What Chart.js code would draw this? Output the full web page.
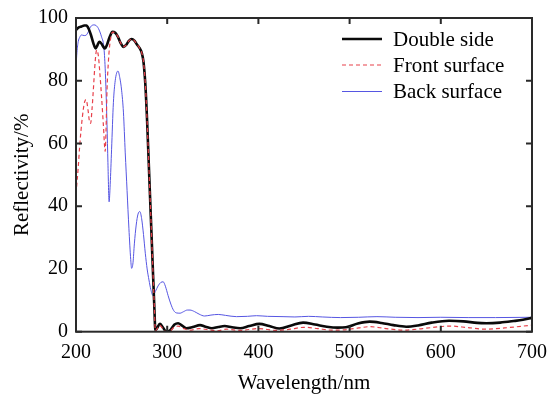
<!DOCTYPE html>
<html>
<head>
<meta charset="utf-8">
<script src="https://cdn.jsdelivr.net/npm/chart.js@4.4.1/dist/chart.umd.min.js"></script>
<style>
  html, body { margin: 0; padding: 0; background: #fff; }
  #wrap { width: 548px; height: 394px; }
</style>
</head>
<body>
<div id="wrap"><canvas id="chart" width="548" height="394"></canvas></div>
<script>
// wavelength (nm) and reflectivity (%)
const wlDouble = [200, 203, 206, 209, 211.5, 214, 216.5, 219, 221.5, 223.5, 225.5, 228, 230, 231.8, 234, 237, 240, 243, 246, 249, 252, 255, 258, 261, 264, 267, 270, 272, 274, 276, 278, 280, 282, 284, 286, 287, 289, 292, 295, 299, 303, 308, 312, 316, 321, 328, 336, 342, 349, 356, 363, 371, 380, 390, 401, 412, 423, 436, 449, 462, 475, 487, 496, 509, 522, 535, 548, 562, 575, 590, 609, 625, 640, 650, 665, 680, 690, 700];
const rDouble = [96.2, 97.0, 97.3, 97.6, 97.6, 96.5, 94.5, 92.0, 90.3, 91.3, 92.4, 91.8, 90.8, 90.3, 91.5, 94.0, 95.6, 95.3, 94.0, 92.0, 90.8, 91.4, 92.7, 93.3, 92.8, 91.5, 90.3, 89.0, 86.0, 79.0, 67.0, 52.0, 37.0, 22.0, 7.0, 0.5, 1.2, 2.5, 1.5, 0.1, 0.4, 2.3, 2.7, 2.0, 1.1, 1.5, 2.1, 1.6, 1.1, 1.5, 1.8, 1.4, 1.1, 1.8, 2.5, 1.8, 1.0, 2.0, 2.9, 2.3, 1.6, 1.3, 1.4, 2.6, 3.2, 2.8, 2.1, 1.6, 2.0, 2.9, 3.5, 3.3, 2.8, 2.7, 2.9, 3.4, 3.8, 4.4];

const wlFront = [200, 202.5, 204, 207, 209.5, 211, 213.5, 214.5, 216, 217.5, 219, 221, 222.6, 224.5, 226, 228, 230, 232, 233, 234, 235.5, 236.5, 238, 240, 243, 246, 249, 252, 255, 258, 261, 264, 267, 270, 272, 274, 276, 278, 280, 282, 284, 286, 287, 289, 292, 295, 299, 303, 308, 312, 318, 325, 335, 345, 355, 365, 380, 400, 420, 435, 450, 465, 480, 495, 510, 522, 540, 560, 580, 610, 630, 650, 670, 700];
const rFront = [44.0, 52.6, 59.0, 68.5, 73.3, 74.0, 70.0, 67.5, 66.4, 70.7, 77.0, 86.0, 89.8, 88.0, 83.0, 75.0, 66.0, 57.5, 65.0, 77.0, 86.0, 90.0, 93.5, 95.5, 95.3, 94.0, 92.0, 90.8, 91.4, 92.7, 93.3, 92.8, 91.5, 90.3, 89.0, 86.0, 79.0, 67.0, 52.0, 37.0, 22.0, 7.0, 0.3, 1.0, 2.0, 1.0, 0.0, 0.2, 1.5, 1.8, 1.0, 0.5, 1.0, 0.6, 0.3, 0.8, 0.4, 1.0, 0.4, 0.8, 1.4, 1.0, 0.5, 0.6, 1.2, 1.6, 1.0, 0.5, 1.0, 1.8, 1.3, 0.8, 1.2, 2.1];

const wlBack = [200, 201, 202.5, 204, 206, 209, 211, 213.5, 216, 219.5, 222, 224.5, 228, 230.5, 232, 233, 234, 235, 236.3, 237.5, 239, 241, 243, 246, 248, 250, 252, 254, 256, 258, 260, 261, 262.5, 264, 266, 268, 270, 272, 274, 276, 278, 280, 282, 284.5, 287, 290, 293, 295.6, 298, 301, 304, 307, 310, 314, 318, 322, 325, 330, 335, 341, 348, 356, 364, 376, 388, 398, 410, 427, 440, 455, 470, 490, 510, 530, 550, 575, 600, 630, 660, 700];
const rBack = [84.0, 89.0, 92.5, 93.8, 94.6, 94.4, 94.5, 95.6, 97.2, 97.8, 97.6, 96.7, 94.0, 90.8, 84.0, 76.0, 66.0, 54.0, 41.4, 47.0, 58.0, 73.0, 80.0, 83.1, 81.0, 77.0, 70.0, 57.0, 45.0, 33.0, 23.0, 20.2, 22.0, 28.0, 34.0, 37.5, 38.3, 36.0, 31.0, 25.0, 20.0, 16.5, 13.5, 11.5, 12.8, 14.6, 15.7, 15.9, 14.5, 11.5, 8.8, 6.8, 6.0, 5.9, 6.4, 6.9, 6.9, 6.4, 5.6, 5.0, 5.3, 5.5, 5.2, 4.8, 4.9, 5.1, 4.9, 4.8, 4.7, 4.9, 4.7, 4.5, 4.6, 4.8, 4.6, 4.5, 4.6, 4.5, 4.5, 4.6];

const seriesNames = ["Double side", "Front surface", "Back surface"];
const xTicks = [200, 300, 400, 500, 600, 700];
const yTicks = [0, 20, 40, 60, 80, 100];

const serif = "'Liberation Serif', 'DejaVu Serif', serif";

function toPoints(xs, ys) {
    return xs.map((x, i) => ({ x: x, y: ys[i] }));
}

// frame with inward ticks on all four sides
const framePlugin = {
    id: "frame",
    afterDraw(chart) {
        const c = chart.ctx;
        const a = chart.chartArea;
        const xs = chart.scales.x, ys = chart.scales.y;
        c.save();
        c.strokeStyle = "#2a2a2a";
        c.lineWidth = 2;
        c.strokeRect(a.left, a.top, a.right - a.left, a.bottom - a.top);
        const len = 6;
        c.beginPath();
        xTicks.forEach(v => {
            const px = xs.getPixelForValue(v);
            c.moveTo(px, a.bottom); c.lineTo(px, a.bottom - len);
            c.moveTo(px, a.top); c.lineTo(px, a.top + len);
        });
        yTicks.forEach(v => {
            const py = ys.getPixelForValue(v);
            c.moveTo(a.left, py); c.lineTo(a.left + len, py);
            c.moveTo(a.right, py); c.lineTo(a.right - len, py);
        });
        c.stroke();
        c.restore();
    }
};

// legend box in the upper right of the plot
const legendPlugin = {
    id: "insideLegend",
    afterDraw(chart) {
        const c = chart.ctx;
        const x0 = 342, x1 = 382, tx = 393;
        const rows = [39, 65, 91.5];
        c.save();
        c.font = "21px " + serif;
        c.textBaseline = "middle";
        c.fillStyle = "#000";
        chart.data.datasets.forEach((ds, i) => {
            c.beginPath();
            c.strokeStyle = ds.borderColor;
            c.lineWidth = ds.borderWidth;
            c.setLineDash(ds.borderDash || []);
            c.moveTo(x0, rows[i]);
            c.lineTo(x1, rows[i]);
            c.stroke();
            c.setLineDash([]);
            c.fillText(ds.label, tx, rows[i] + 1);
        });
        c.restore();
    }
};

const ctx = document.getElementById("chart");
const chart = new Chart(ctx, {
    type: "line",
    data: {
        datasets: [{
            label: seriesNames[0],
            data: toPoints(wlDouble, rDouble),
            borderColor: "#0a0a0a",
            borderWidth: 2.6,
            order: 1
        }, {
            label: seriesNames[1],
            data: toPoints(wlFront, rFront),
            borderColor: "#e8404a",
            borderWidth: 1.2,
            borderDash: [4, 3],
            order: 0
        }, {
            label: seriesNames[2],
            data: toPoints(wlBack, rBack),
            borderColor: "#5656e2",
            borderWidth: 1,
            order: 2
        }]
    },
    options: {
        responsive: false,
        animation: false,
        events: [],
        layout: { padding: { top: 18, right: 16, left: 0, bottom: 0 } },
        elements: {
            point: { radius: 0 },
            line: { cubicInterpolationMode: "monotone", fill: false }
        },
        plugins: {
            legend: { display: false },
            tooltip: { enabled: false }
        },
        scales: {
            x: {
                type: "linear",
                min: 200,
                max: 700,
                afterBuildTicks: (s) => { s.ticks = xTicks.map(v => ({ value: v })); },
                afterFit: (s) => { s.height = 62.3; s.paddingLeft = 0; s.paddingRight = 0; },
                grid: { display: false, drawTicks: false },
                border: { display: false },
                ticks: {
                    color: "#000",
                    padding: 9,
                    maxRotation: 0,
                    font: { family: serif, size: 20 }
                },
                title: {
                    display: true,
                    text: "Wavelength/nm",
                    color: "#000",
                    font: { family: serif, size: 21, lineHeight: 1 },
                    padding: { top: 0, bottom: 0 }
                }
            },
            y: {
                min: 0,
                max: 100,
                afterBuildTicks: (s) => { s.ticks = yTicks.map(v => ({ value: v })); },
                afterFit: (s) => { s.width = 76; s.paddingTop = 0; s.paddingBottom = 0; },
                grid: { display: false, drawTicks: false },
                border: { display: false },
                ticks: {
                    color: "#000",
                    padding: 8,
                    font: { family: serif, size: 20 }
                },
                title: {
                    display: true,
                    text: "Reflectivity/%",
                    color: "#000",
                    font: { family: serif, size: 21, lineHeight: 1 },
                    padding: { top: 12, bottom: 0 }
                }
            }
        }
    },
    plugins: [framePlugin, legendPlugin]
});
</script>
</body>
</html>
